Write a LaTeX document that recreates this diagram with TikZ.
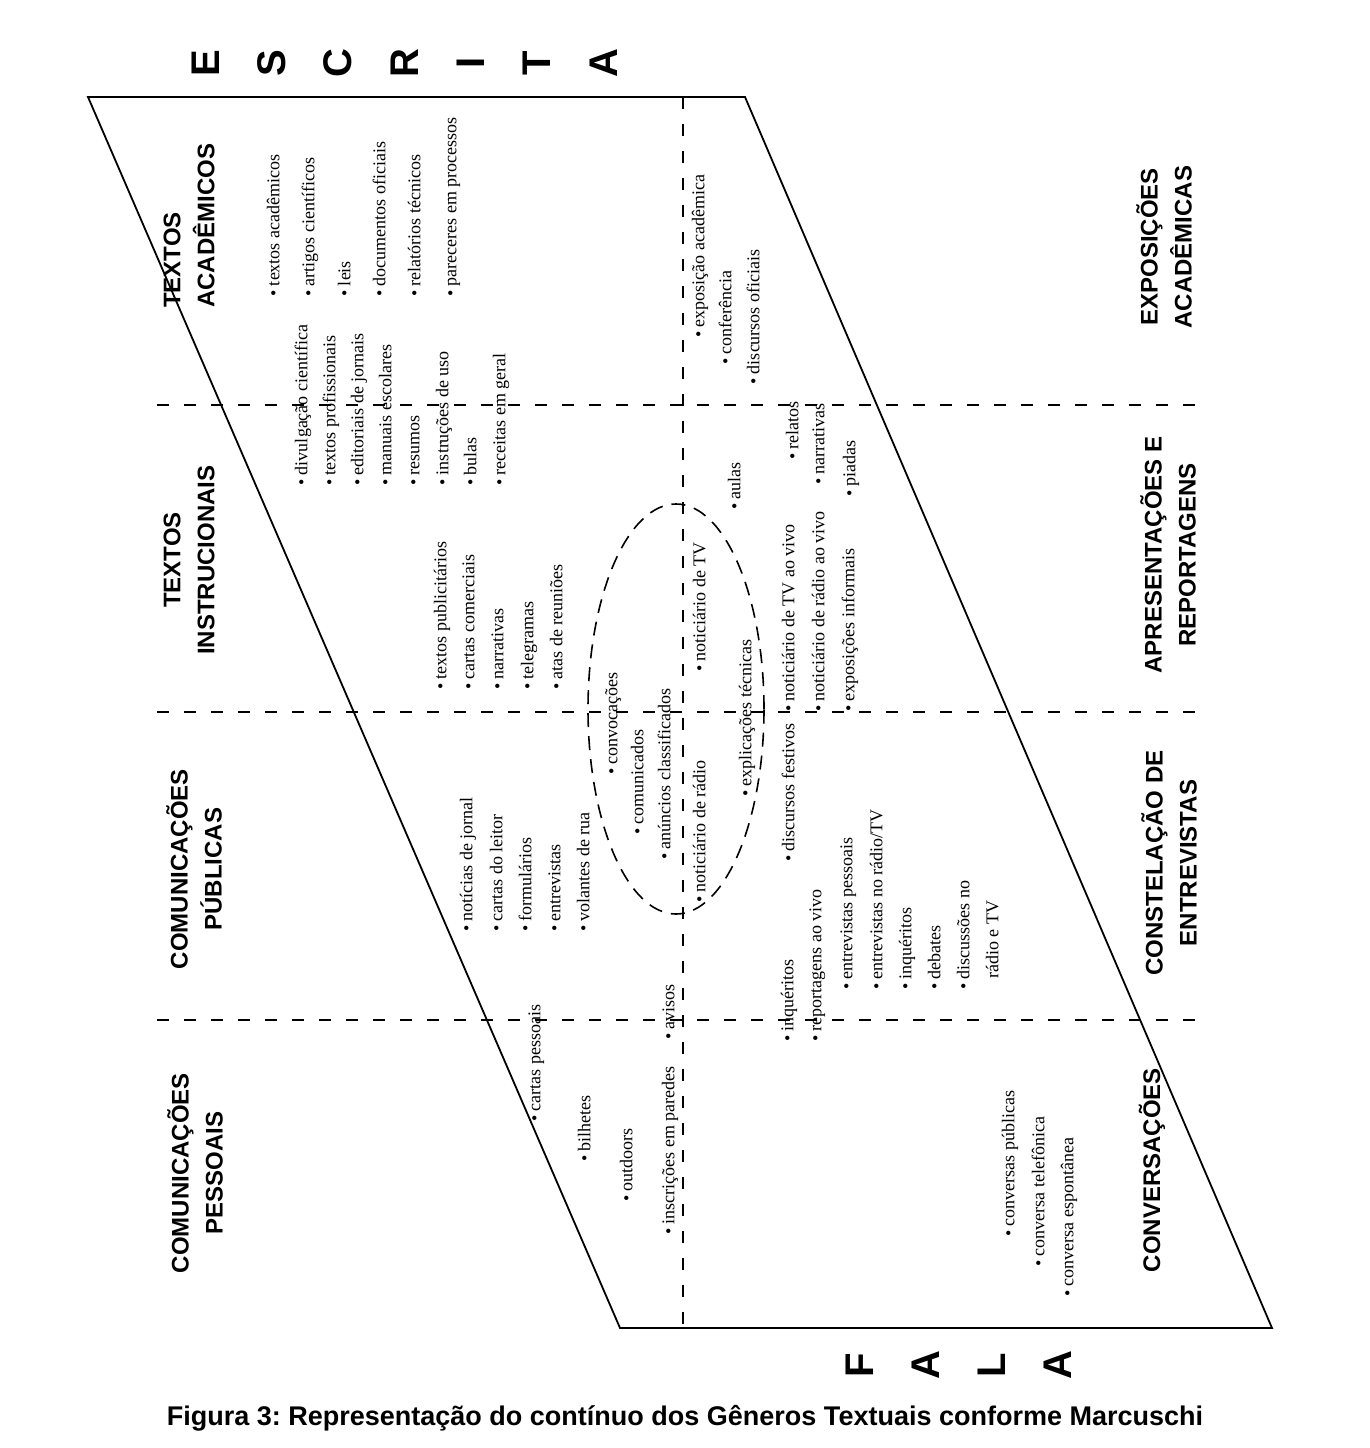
\documentclass[tikz,border=0pt]{standalone}
\usepackage{fontspec}
\setmainfont{Liberation Serif}
\newfontfamily\labfont{Liberation Sans}
\usetikzlibrary{shapes.geometric}
\frenchspacing
\begin{document}
\begin{tikzpicture}[x=1pt,y=-1pt,
  itm/.style={rotate=90, anchor=mid west, inner sep=0pt, font=\fontsize{18}{20}\selectfont},
  lab/.style={rotate=90, inner sep=0pt, align=center, font=\labfont\bfseries\fontsize{24}{34}\selectfont},
  big/.style={rotate=90, inner sep=0pt, font=\labfont\bfseries\fontsize{40}{40}\selectfont},
  edgeline/.style={line width=1.8pt, line join=miter},
  divider/.style={line width=2.4pt, dash pattern=on 12pt off 15pt},
  oval/.style={ellipse, draw, line width=1.6pt, dash pattern=on 14pt off 9pt, minimum width=176pt, minimum height=410pt, inner sep=0pt}
]
\fill[white] (0,0) rectangle (1370,1448);
\useasboundingbox (0,0) rectangle (1370,1448);

% frame
\coordinate (tl) at (88,97);
\coordinate (tr) at (745,97);
\coordinate (br) at (1272,1328);
\coordinate (bl) at (620,1328);
\draw[edgeline] (tl) -- (tr) -- (br) -- (bl) -- cycle;

% dividers
\coordinate (vt) at (683,97);
\coordinate (vb) at (683,1328);
\coordinate (h1l) at (157,405);  \coordinate (h1r) at (1200,405);
\coordinate (h2l) at (157,712);  \coordinate (h2r) at (1200,712);
\coordinate (h3l) at (157,1020); \coordinate (h3r) at (1200,1020);
\draw[divider] (vt) -- (vb);
\draw[divider] (h1l) -- (h1r);
\draw[divider] (h2l) -- (h2r);
\draw[divider] (h3l) -- (h3r);

% ellipse
\node[oval] (ov) at (676,709) {};

% big letters
\node[big] (e1) at (206,63) {E};
\node[big] (e2) at (272,63) {S};
\node[big] (e3) at (338,63) {C};
\node[big] (e4) at (405,63) {R};
\node[big] (e5) at (471,63) {I};
\node[big] (e6) at (537,63) {T};
\node[big] (e7) at (604,63) {A};
\node[big] (f1) at (860,1365) {F};
\node[big] (f2) at (926,1365) {A};
\node[big] (f3) at (992,1365) {L};
\node[big] (f4) at (1058,1365) {A};

% category labels
\node[lab, align=left, anchor=west] (la) at (189,308) {TEXTOS\\ACADÊMICOS};
\node[lab] (lb) at (189,560) {TEXTOS\\INSTRUCIONAIS};
\node[lab] (lc) at (194,869) {COMUNICAÇÕES\\PÚBLICAS};
\node[lab] (ld) at (195,1173) {COMUNICAÇÕES\\PESSOAIS};
\node[lab] (ra) at (1164,247) {EXPOSIÇÕES\\ACADÊMICAS};
\node[lab] (rb) at (1168,555) {APRESENTAÇÕES E\\REPORTAGENS};
\node[lab] (rc) at (1169,863) {CONSTELAÇÃO DE\\ENTREVISTAS};
\node[lab] (rd) at (1152,1170) {CONVERSAÇÕES};

% group A
\node[itm] (a1) at (277,297) {\textbullet\ textos acadêmicos};
\node[itm] (a2) at (312,297) {\textbullet\ artigos científicos};
\node[itm] (a3) at (348,297) {\textbullet\ leis};
\node[itm] (a4) at (383,297) {\textbullet\ documentos oficiais};
\node[itm] (a5) at (418,297) {\textbullet\ relatórios técnicos};
\node[itm] (a6) at (454,297) {\textbullet\ pareceres em processos};

% group B
\node[itm] (b1) at (305,486) {\textbullet\ divulgação científica};
\node[itm] (b2) at (333,486) {\textbullet\ textos profissionais};
\node[itm] (b3) at (361,486) {\textbullet\ editoriais de jornais};
\node[itm] (b4) at (389,486) {\textbullet\ manuais escolares};
\node[itm] (b5) at (417,486) {\textbullet\ resumos};
\node[itm] (b6) at (446,486) {\textbullet\ instruções de uso};
\node[itm] (b7) at (474,486) {\textbullet\ bulas};
\node[itm] (b8) at (503,486) {\textbullet\ receitas em geral};

% group C
\node[itm] (c1) at (444,690) {\textbullet\ textos publicitários};
\node[itm] (c2) at (472,690) {\textbullet\ cartas comerciais};
\node[itm] (c3) at (501,690) {\textbullet\ narrativas};
\node[itm] (c4) at (531,690) {\textbullet\ telegramas};
\node[itm] (c5) at (560,690) {\textbullet\ atas de reuniões};

% group D
\node[itm] (d1) at (470,932) {\textbullet\ notícias de jornal};
\node[itm] (d2) at (500,932) {\textbullet\ cartas do leitor};
\node[itm] (d3) at (529,932) {\textbullet\ formulários};
\node[itm] (d4) at (558,932) {\textbullet\ entrevistas};
\node[itm] (d5) at (587,932) {\textbullet\ volantes de rua};

% ellipse group
\node[itm] (o1) at (615,775) {\textbullet\ convocações};
\node[itm] (o2) at (641,835) {\textbullet\ comunicados};
\node[itm] (o3) at (668,860) {\textbullet\ anúncios classificados};
\node[itm] (o4) at (703,903) {\textbullet\ noticiário de rádio};
\node[itm] (o5) at (703,672) {\textbullet\ noticiário de TV};
\node[itm] (o6) at (749,797) {\textbullet\ explicações técnicas};
\node[itm] (o7) at (738,510) {\textbullet\ aulas};

% group F (exposicoes)
\node[itm] (g1) at (702,338) {\textbullet\ exposição acadêmica};
\node[itm] (g2) at (729,365) {\textbullet\ conferência};
\node[itm] (g3) at (757,385) {\textbullet\ discursos oficiais};

% apresentacoes
\node[itm] (p1) at (796,460) {\textbullet\ relatos};
\node[itm] (p2) at (822,485) {\textbullet\ narrativas};
\node[itm] (p3) at (853,497) {\textbullet\ piadas};
\node[itm] (p4) at (792,712) {\textbullet\ noticiário de TV ao vivo};
\node[itm] (p5) at (822,712) {\textbullet\ noticiário de rádio ao vivo};
\node[itm] (p6) at (852,712) {\textbullet\ exposições informais};
\node[itm] (p7) at (792,862) {\textbullet\ discursos festivos};

% entrevistas
\node[itm] (q1) at (791,1042) {\textbullet\ inquéritos};
\node[itm] (q2) at (819,1042) {\textbullet\ reportagens ao vivo};
\node[itm] (q3) at (850,990) {\textbullet\ entrevistas pessoais};
\node[itm] (q4) at (880,990) {\textbullet\ entrevistas no rádio/TV};
\node[itm] (q5) at (909,990) {\textbullet\ inquéritos};
\node[itm] (q6) at (938,990) {\textbullet\ debates};
\node[itm] (q7) at (967,990) {\textbullet\ discussões no};
\node[itm] (q8) at (996,979) {rádio e TV};

% conversacoes
\node[itm] (s1) at (1012,1237) {\textbullet\ conversas públicas};
\node[itm] (s2) at (1042,1267) {\textbullet\ conversa telefônica};
\node[itm] (s3) at (1071,1297) {\textbullet\ conversa espontânea};

% comunicacoes pessoais
\node[itm] (t1) at (538,1122) {\textbullet\ cartas pessoais};
\node[itm] (t2) at (588,1162) {\textbullet\ bilhetes};
\node[itm] (t3) at (630,1202) {\textbullet\ outdoors};
\node[itm] (t4) at (672,1235) {\textbullet\ inscrições em paredes};
\node[itm] (t5) at (672,1040) {\textbullet\ avisos};

% caption
\node[font=\labfont\bfseries\fontsize{27}{30}\selectfont, inner sep=0pt] (cap) at (685,1418) {Figura 3: Representação do contínuo dos Gêneros Textuais conforme Marcuschi};
\end{tikzpicture}
\end{document}
